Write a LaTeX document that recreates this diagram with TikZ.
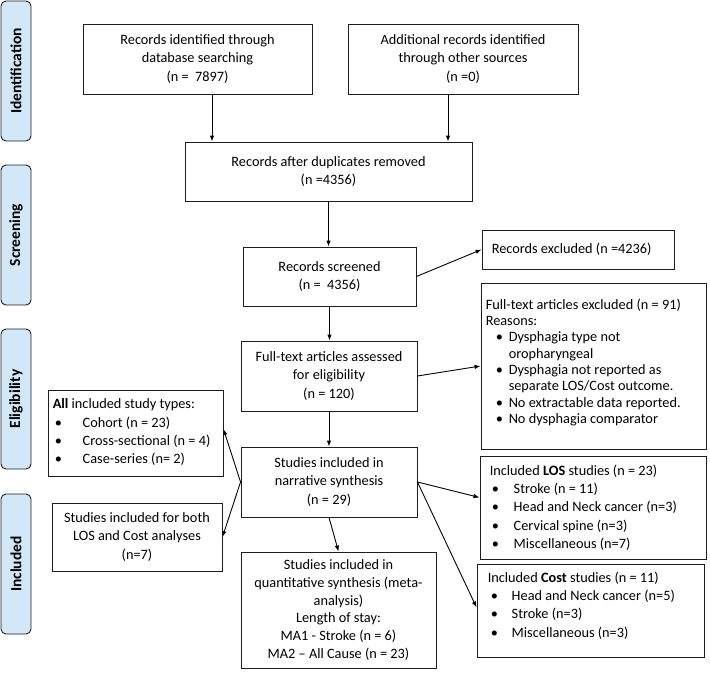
\documentclass[tikz,border=0pt]{standalone}
\usepackage{fontspec}
\setmainfont{Carlito}
\usetikzlibrary{arrows.meta}
\definecolor{phasefill}{RGB}{210,231,248}
\definecolor{edgecol}{RGB}{30,30,30}
\newcommand\bul[2]{\hspace*{#1}\makebox[#2][l]{\textbullet}}
\tikzset{
  box/.style={draw=edgecol, line width=0.9pt, fill=white, align=center, inner sep=0pt,
    font=\fontsize{14.3}{18.3}\selectfont},
  txt/.style={align=left, inner sep=0pt, anchor=north west,
    font=\fontsize{14.3}{18.3}\selectfont},
  phase/.style={draw=edgecol, line width=0.9pt, fill=phasefill, rounded corners=5pt,
    inner sep=0pt, rotate=90, minimum width=140pt, minimum height=30pt,
    font=\fontsize{15.5}{18}\selectfont\bfseries},
  arr/.style={draw=black, line width=0.9pt, -{Latex[length=6pt,width=4.5pt]}},
}
\begin{document}
\begin{tikzpicture}[x=1pt,y=-1pt]
\useasboundingbox (0,0) rectangle (710,678);

% phase labels
\node[phase] (pid) at (16,71) {Identification};
\node[phase] (pscr) at (16,235) {Screening};
\node[phase] (pel) at (16,399) {Eligibility};
\node[phase] (pinc) at (16,564) {Included};

% main column
\node[box, minimum width=229pt, minimum height=70pt] (b1) at (197.5,59)
  {Records identified through\\database searching\\(n = \ 7897)};
\node[box, minimum width=230pt, minimum height=70pt] (b2) at (463,59)
  {Additional records identified\\through other sources\\(n =0)};
\node[box, minimum width=287pt, minimum height=59pt] (b3) at (328.5,171.5)
  {Records after duplicates removed\\(n =4356)};
\node[box, minimum width=173pt, minimum height=59pt] (b4) at (329.5,276.5)
  {Records screened\\(n = \ 4356)};
\node[box, minimum width=176pt, minimum height=70pt] (ft) at (329,376)
  {Full-text articles assessed\\for eligibility\\(n = 120)};
\node[box, minimum width=176pt, minimum height=70pt] (nar) at (329,482)
  {Studies included in\\narrative synthesis\\(n = 29)};
\node[box, minimum width=195pt, minimum height=116pt,
      font=\fontsize{14.3}{17.7}\selectfont] (quant) at (338.5,610)
  {Studies included in\\quantitative synthesis (meta-\\analysis)\\Length of stay:\\MA1 - Stroke (n = 6)\\MA2 -- All Cause (n = 23)};

% right column
\node[box, minimum width=192pt, minimum height=39pt] (rex) at (578,249.5) {};
\node[txt, anchor=west] (rext) at ([xshift=10pt]rex.west) {Records excluded (n =4236)};

\node[box, minimum width=225pt, minimum height=166pt] (ftx) at (593.5,366) {};
\node[txt, font=\fontsize{14.3}{16.3}\selectfont] (ftxt) at ([xshift=5pt,yshift=-16pt]ftx.north west)
  {Full-text articles excluded (n = 91)\\
   Reasons:\\
   \bul{10pt}{13pt}Dysphagia type not\\
   \hspace*{23pt}oropharyngeal\\
   \bul{10pt}{13pt}Dysphagia not reported as\\
   \hspace*{23pt}separate LOS/Cost outcome.\\
   \bul{10pt}{13pt}No extractable data reported.\\
   \bul{10pt}{13pt}No dysphagia comparator};

\node[box, minimum width=226pt, minimum height=103pt] (los) at (593,507.5) {};
\node[txt] (lost) at ([xshift=10pt,yshift=-9pt]los.north west)
  {Included \textbf{LOS} studies (n = 23)\\
   \bul{2pt}{22pt}Stroke (n = 11)\\
   \bul{2pt}{22pt}Head and Neck cancer (n=3)\\
   \bul{2pt}{22pt}Cervical spine (n=3)\\
   \bul{2pt}{22pt}Miscellaneous (n=7)};

\node[box, minimum width=227pt, minimum height=93pt] (cost) at (590.5,610.5) {};
\node[txt] (costt) at ([xshift=11pt,yshift=-8pt]cost.north west)
  {Included \textbf{Cost} studies (n = 11)\\
   \bul{3pt}{21pt}Head and Neck cancer (n=5)\\
   \bul{3pt}{21pt}Stroke (n=3)\\
   \bul{3pt}{21pt}Miscellaneous (n=3)};

% left column
\node[box, minimum width=175pt, minimum height=86pt] (all) at (135.5,433) {};
\node[txt] (allt) at ([xshift=5pt,yshift=-9pt]all.north west)
  {\textbf{All} included study types:\\
   \bul{2pt}{28pt}Cohort (n = 23)\\
   \bul{2pt}{28pt}Cross-sectional (n = 4)\\
   \bul{2pt}{28pt}Case-series (n= 2)};

\node[box, minimum width=170pt, minimum height=68pt] (both) at (137,537)
  {Studies included for both\\LOS and Cost analyses\\(n=7)};

% connectors
\coordinate (xa) at (212,0);
\coordinate (xb) at (448,0);
\draw[arr] (xa |- b1.south) -- (xa |- b3.north);
\draw[arr] (xb |- b2.south) -- (xb |- b3.north);
\draw[arr] (b3.south) -- (b3.south |- b4.north);
\draw[arr] (b4.east) -- (rex.west);
\draw[arr] (b4.south) -- (b4.south |- ft.north);
\draw[arr] (ft.east) -- (ftx.west);
\draw[arr] (ft.south) -- (ft.south |- nar.north);
\draw[arr] (nar.south) -- (quant.north);
\draw[arr] (nar.east) -- ([yshift=10pt]los.west);
\draw[arr] (nar.east) -- ([yshift=3pt]cost.west);
\draw[arr] (nar.west) -- ([yshift=4pt]all.east);
\draw[arr] (nar.west) -- (both.east);
\end{tikzpicture}
\end{document}
